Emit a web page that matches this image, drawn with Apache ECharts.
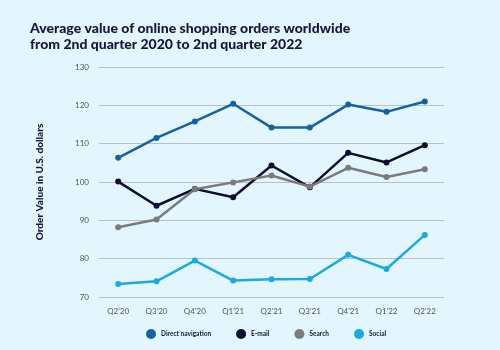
<!DOCTYPE html>
<html>
<head>
<meta charset="utf-8">
<script src="https://cdn.jsdelivr.net/npm/echarts@6/dist/echarts.min.js"></script>
<style>
html,body{margin:0;padding:0;background:#e3f6fd;}
#chart{width:500px;height:350px;}
</style>
</head>
<body>
<div id="chart"></div>
<script>
var quarters = ["Q2'20", "Q3'20", "Q4'20", "Q1'21", "Q2'21", "Q3'21", "Q4'21", "Q1'22", "Q2'22"];
var directNavigation = [106.3, 111.5, 115.8, 120.4, 114.2, 114.2, 120.2, 118.3, 121.0];
var email = [100.1, 93.8, 98.2, 96.0, 104.3, 98.6, 107.6, 105.1, 109.6];
var search = [88.2, 90.2, 98.1, 99.9, 101.7, 98.8, 103.7, 101.3, 103.3];
var social = [73.4, 74.1, 79.5, 74.3, 74.6, 74.7, 81.0, 77.3, 86.2];

var colorList = ['#1461a8', '#0d0c33', '#7b7b7b', '#1ba9e1'];

function line(name, data, color) {
	return {
		name: name,
		type: 'line',
		data: data,
		symbol: 'circle',
		symbolSize: 6,
		lineStyle: {color: color, width: 2.5},
		itemStyle: {color: color},
		emphasis: {disabled: true}
	};
}

var myChart = echarts.init(document.getElementById('chart'));
var option = {
	backgroundColor: '#e3f6fd',
	animation: false,
	textStyle: {fontFamily: 'Lato'},
	title: {
		text: 'Average value of online shopping orders worldwide\nfrom 2nd quarter 2020 to 2nd quarter 2022',
		left: 25,
		top: 15,
		textStyle: {
			color: '#17173a',
			fontSize: 14,
			fontWeight: 900,
			lineHeight: 16,
			fontFamily: 'Lato'
		}
	},
	legend: {
		top: 324,
		left: 141,
		icon: 'circle',
		itemWidth: 10,
		itemHeight: 10,
		itemGap: 25,
		textStyle: {color: '#1f2a4a', fontSize: 6.5, fontWeight: 900},
		data: ['Direct navigation', 'E-mail', 'Search', 'Social']
	},
	grid: {
		left: 99,
		right: 56,
		top: 67,
		bottom: 53
	},
	xAxis: {
		type: 'category',
		data: quarters,
		boundaryGap: true,
		axisLine: {show: false},
		axisTick: {show: false},
		axisLabel: {color: '#555', fontSize: 8, margin: 10}
	},
	yAxis: {
		type: 'value',
		min: 70,
		max: 130,
		interval: 10,
		name: 'Order Value in U.S. dollars',
		nameLocation: 'middle',
		nameGap: 54,
		nameTextStyle: {color: '#17173a', fontSize: 10, fontWeight: 900},
		axisLine: {show: false},
		axisTick: {show: false},
		axisLabel: {color: '#555', fontSize: 8, margin: 10},
		splitLine: {lineStyle: {color: '#b9c0c6', width: 1}}
	},
	series: [
		line('Direct navigation', directNavigation, colorList[0]),
		line('E-mail', email, colorList[1]),
		line('Search', search, colorList[2]),
		line('Social', social, colorList[3])
	]
};
myChart.setOption(option);
</script>
</body>
</html>
